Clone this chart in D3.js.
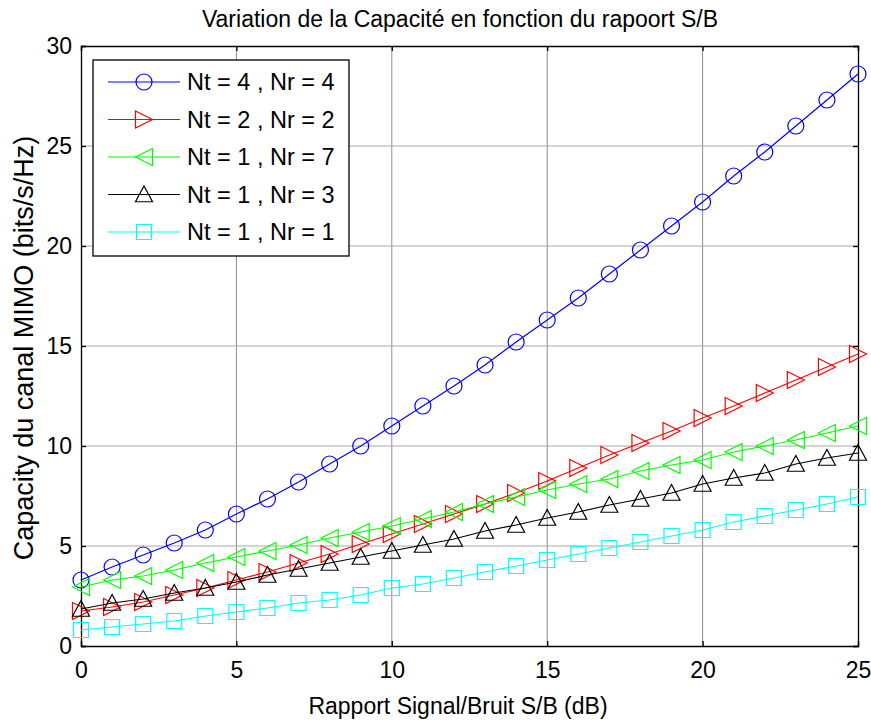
<!DOCTYPE html>
<html lang="fr">
<head>
<meta charset="UTF-8">
<title>Variation de la Capacité</title>
<style>
  body { margin: 0; background: #fff; }
  svg text { font-family: 'Liberation Sans', Arial, sans-serif; fill: #000; }
</style>
</head>
<body>
<div id="chart"></div>
<script src="https://d3js.org/d3.v7.min.js"></script>
<script>
// SNR in dB
const snr = d3.range(0, 26);

const labels = ["Nt = 4 , Nr = 4", "Nt = 2 , Nr = 2", "Nt = 1 , Nr = 7", "Nt = 1 , Nr = 3", "Nt = 1 , Nr = 1"];
const colors = ["#0000ff", "#ff0000", "#00ff00", "#000000", "#00ffff"];
const markers = ["circle", "right", "left", "up", "square"];

const cap44 = [3.3, 3.95, 4.55, 5.15, 5.8, 6.6, 7.35, 8.2, 9.1, 10.0, 11.0, 12.0, 13.0, 14.05, 15.2, 16.3, 17.4, 18.6, 19.8, 21.0, 22.2, 23.5, 24.7, 26.0, 27.3, 28.6];
const cap22 = [1.75, 1.95, 2.2, 2.55, 2.9, 3.3, 3.7, 4.15, 4.6, 5.1, 5.6, 6.1, 6.6, 7.1, 7.65, 8.25, 8.9, 9.55, 10.15, 10.75, 11.4, 12.0, 12.65, 13.3, 13.95, 14.6];
const cap17 = [2.95, 3.3, 3.5, 3.8, 4.15, 4.45, 4.75, 5.05, 5.4, 5.7, 6.0, 6.35, 6.7, 7.1, 7.45, 7.8, 8.1, 8.35, 8.75, 9.05, 9.3, 9.7, 10.0, 10.3, 10.65, 11.0];
const cap13 = [1.85, 2.15, 2.35, 2.65, 2.9, 3.2, 3.55, 3.85, 4.15, 4.45, 4.75, 5.05, 5.35, 5.75, 6.05, 6.4, 6.7, 7.05, 7.35, 7.65, 8.1, 8.4, 8.65, 9.1, 9.4, 9.65];
const cap11 = [0.8, 0.95, 1.1, 1.25, 1.5, 1.7, 1.9, 2.15, 2.3, 2.55, 2.9, 3.1, 3.4, 3.7, 4.0, 4.3, 4.6, 4.9, 5.2, 5.5, 5.8, 6.2, 6.5, 6.8, 7.1, 7.45];
const series = [cap44, cap22, cap17, cap13, cap11];

const xTicks = [0, 5, 10, 15, 20, 25];
const yTicks = [0, 5, 10, 15, 20, 25, 30];

const width = 871, height = 722;
const margin = { top: 46, right: 13, bottom: 76, left: 81 };
const iw = width - margin.left - margin.right;
const ih = height - margin.top - margin.bottom;

const svg = d3.select("#chart").append("svg")
    .attr("width", width)
    .attr("height", height);

const x = d3.scaleLinear().domain([0, 25]).range([margin.left, margin.left + iw]);
const y = d3.scaleLinear().domain([0, 30]).range([margin.top + ih, margin.top]);

// grid
svg.append("g").selectAll("line").data(xTicks.slice(1, -1)).join("line")
    .attr("x1", d => x(d)).attr("x2", d => x(d))
    .attr("y1", y(0)).attr("y2", y(30))
    .attr("stroke", "#8c8c8c").attr("stroke-width", 1);
svg.append("g").selectAll("line").data(yTicks.slice(1, -1)).join("line")
    .attr("x1", x(0)).attr("x2", x(25))
    .attr("y1", d => y(d)).attr("y2", d => y(d))
    .attr("stroke", "#aaaaaa").attr("stroke-width", 1.2);

// axes (ticks pointing inward, MATLAB style)
const xAxis = svg.append("g").attr("transform", `translate(0,${y(0)})`)
    .call(d3.axisBottom(x).tickValues(xTicks).tickSize(-5).tickPadding(16));
const xAxisTop = svg.append("g").attr("transform", `translate(0,${y(30)})`)
    .call(d3.axisTop(x).tickValues(xTicks).tickSize(-5).tickFormat(""));
const yAxis = svg.append("g").attr("transform", `translate(${x(0)},0)`)
    .call(d3.axisLeft(y).tickValues(yTicks).tickSize(-5).tickPadding(9));
const yAxisRight = svg.append("g").attr("transform", `translate(${x(25)},0)`)
    .call(d3.axisRight(y).tickValues(yTicks).tickSize(-5).tickFormat(""));

[xAxis, xAxisTop, yAxis, yAxisRight].forEach(g => {
    g.select(".domain").attr("stroke", "#000").attr("stroke-width", 1.3);
    g.selectAll(".tick line").attr("stroke", "#000").attr("stroke-width", 1.3);
    g.selectAll("text").style("font-size", "23px").attr("fill", "#000")
        .style("font-family", "'Liberation Sans', Arial, sans-serif");
});

// marker shapes
function markerPath(type, s) {
    const h = s / 2;
    if (type === "right") return `M${-h},${-h}L${h},0L${-h},${h}Z`;
    if (type === "left") return `M${h},${-h}L${-h},0L${h},${h}Z`;
    if (type === "up") return `M0,${-h}L${h},${h * 0.85}L${-h},${h * 0.85}Z`;
    if (type === "square") return `M${-h},${-h}H${h}V${h}H${-h}Z`;
    return null;
}

function drawMarker(g, type, color, cx, cy) {
    if (type === "circle") {
        g.append("circle").attr("cx", cx).attr("cy", cy).attr("r", 8)
            .attr("fill", "none").attr("stroke", color).attr("stroke-width", 1.2);
    } else {
        const s = type === "square" ? 15 : 17;
        g.append("path").attr("d", markerPath(type, s))
            .attr("transform", `translate(${cx},${cy})`)
            .attr("fill", "none").attr("stroke", color).attr("stroke-width", 1.2);
    }
}

const line = d3.line().x((d, i) => x(snr[i])).y(d => y(d));

const plot = svg.append("g");
series.forEach((vals, k) => {
    const g = plot.append("g");
    g.append("path").datum(vals).attr("d", line)
        .attr("fill", "none").attr("stroke", colors[k]).attr("stroke-width", 1.2);
    vals.forEach((v, i) => drawMarker(g, markers[k], colors[k], x(snr[i]), y(v)));
});

// legend
const lg = svg.append("g").attr("transform", "translate(93,60)");
lg.append("rect").attr("width", 256).attr("height", 196)
    .attr("fill", "#fff").attr("stroke", "#000").attr("stroke-width", 1.3);
labels.forEach((lab, k) => {
    const ly = 22 + k * 37.5;
    lg.append("line").attr("x1", 15).attr("x2", 87).attr("y1", ly).attr("y2", ly)
        .attr("stroke", colors[k]).attr("stroke-width", 1.2);
    drawMarker(lg, markers[k], colors[k], 51, ly);
    lg.append("text").attr("x", 94).attr("y", ly).attr("dy", "0.36em")
        .style("font-size", "23.5px").text(lab);
});

// title and axis labels
svg.append("text").attr("x", 460).attr("y", 27)
    .attr("text-anchor", "middle").style("font-size", "23px")
    .text("Variation de la Capacité en fonction du rapoort S/B");
svg.append("text").attr("x", 458).attr("y", 714)
    .attr("text-anchor", "middle").style("font-size", "23px")
    .text("Rapport Signal/Bruit S/B (dB)");
svg.append("text").attr("transform", `translate(33,348) rotate(-90)`)
    .attr("text-anchor", "middle").style("font-size", "27px")
    .text("Capacity du canal MIMO (bits/s/Hz)");
</script>
</body>
</html>
